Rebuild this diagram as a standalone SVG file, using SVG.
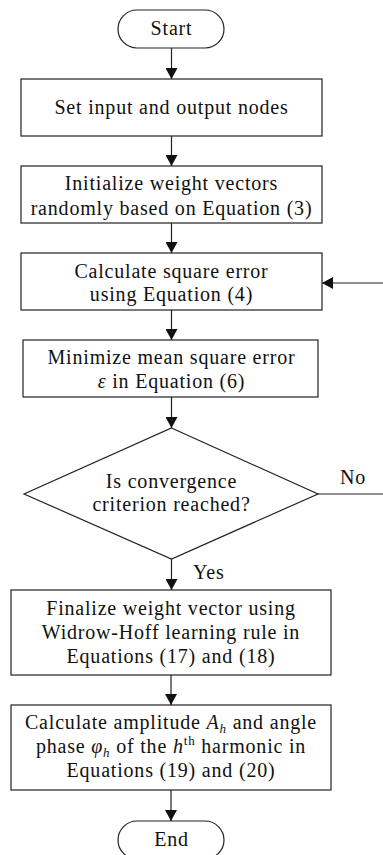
<svg xmlns="http://www.w3.org/2000/svg" width="383" height="855" viewBox="0 0 383 855">
<style>
.n{fill:#fff;stroke:#222;stroke-width:1.2}
.t{font-size:20px;fill:#111;text-anchor:middle;letter-spacing:0.8px}
.i{font-style:italic}
.c{fill:none;stroke:#222;stroke-width:1.2}
.l{font-size:20px;fill:#111;letter-spacing:0.8px}
</style>
<defs>
<marker id="a" markerWidth="11" markerHeight="12" refX="11" refY="6" orient="auto" markerUnits="userSpaceOnUse">
<path d="M0,0 L11,6 L0,12 Z" fill="#111"/>
</marker>
</defs>
<g font-family="Liberation Serif, serif">
<g id="start"><rect class="n" x="118" y="10" width="106" height="38" rx="19"/><text class="t" x="171.5" y="35">Start</text></g>
<g id="set"><rect class="n" x="21" y="79" width="301" height="57"/><text class="t" x="171.5" y="114">Set input and output nodes</text></g>
<g id="init"><rect class="n" x="21" y="166" width="301" height="57"/><text class="t" x="171.5" y="190">Initialize weight vectors</text><text class="t" x="171.5" y="215">randomly based on Equation (3)</text></g>
<g id="calc"><rect class="n" x="21" y="253" width="301" height="57"/><text class="t" x="171.5" y="278">Calculate square error</text><text class="t" x="171.5" y="301">using Equation (4)</text></g>
<g id="min"><rect class="n" x="23" y="340" width="295" height="57"/><text class="t" x="171.5" y="364">Minimize mean square error</text><text class="t" x="171.5" y="388"><tspan class="i">ε</tspan> in Equation (6)</text></g>
<g id="dec"><polygon class="n" points="171.5,428 318,494 171.5,559 24,494"/><text class="t" x="171.5" y="488">Is convergence</text><text class="t" x="171.5" y="511">criterion reached?</text></g>
<g id="fin"><rect class="n" x="11" y="590" width="320" height="85"/><text class="t" x="171" y="615">Finalize weight vector using</text><text class="t" x="171" y="639">Widrow-Hoff learning rule in</text><text class="t" x="171" y="663">Equations (17) and (18)</text></g>
<g id="amp"><rect class="n" x="11" y="705" width="320" height="85"/><text class="t" x="171" y="729">Calculate amplitude <tspan class="i">A</tspan><tspan class="i" font-size="13" dy="4">h</tspan><tspan dy="-4"> and angle</tspan></text><text class="t" x="171" y="753">phase <tspan class="i">φ</tspan><tspan class="i" font-size="13" dy="4">h</tspan><tspan dy="-4"> of the </tspan><tspan class="i">h</tspan><tspan font-size="13" dy="-8">th</tspan><tspan dy="8"> harmonic in</tspan></text><text class="t" x="171" y="777">Equations (19) and (20)</text></g>
<g id="end"><rect class="n" x="118" y="821" width="106" height="38" rx="19"/><text class="t" x="171.5" y="846">End</text></g>
<g id="connectors">
<path class="c" d="M171.5,48 V79" marker-end="url(#a)"/>
<path class="c" d="M171.5,136 V166" marker-end="url(#a)"/>
<path class="c" d="M171.5,223 V253" marker-end="url(#a)"/>
<path class="c" d="M171.5,310 V340" marker-end="url(#a)"/>
<path class="c" d="M171.5,397 V428" marker-end="url(#a)"/>
<path class="c" d="M171.5,559 V590" marker-end="url(#a)"/>
<path class="c" d="M171,675 V705" marker-end="url(#a)"/>
<path class="c" d="M171,790 V821" marker-end="url(#a)"/>
<path class="c" d="M318,494 H390 V283 H322" marker-end="url(#a)"/>
<text class="l" x="340" y="484">No</text>
<text class="l" x="193" y="579">Yes</text>
</g>
</g>
</svg>
